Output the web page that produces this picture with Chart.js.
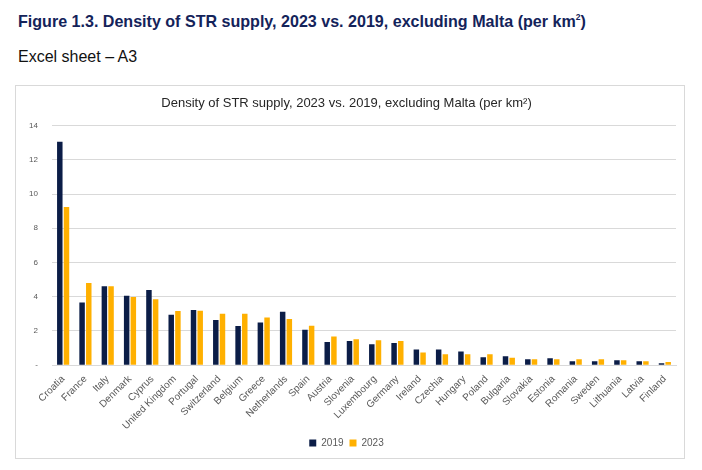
<!DOCTYPE html>
<html>
<head>
<meta charset="utf-8">
<script src="https://cdn.jsdelivr.net/npm/chart.js@4/dist/chart.umd.min.js"></script>
<style>
  body { margin: 0; background: #fff; font-family: "Liberation Sans", Arial, sans-serif; }
  #fig { position: absolute; left: 18px; top: 12px; font-family: "Liberation Sans", sans-serif; font-weight: bold; font-size: 17px; color: #14235a; transform: scaleX(0.945); transform-origin: left top; white-space: nowrap; }
  #fig sup { font-size: 9px; }
  #sheet { position: absolute; left: 18px; top: 48px; font-family: "Liberation Sans", sans-serif; font-size: 16px; color: #111; }
  #box { position: absolute; left: 15px; top: 85px; width: 668px; height: 372px; border: 1px solid #d9d9d9; }
</style>
</head>
<body>
<div id="fig">Figure 1.3. Density of STR supply, 2023 vs. 2019, excluding Malta (per km<sup>2</sup>)</div>
<div id="sheet">Excel sheet – A3</div>
<div id="box"><canvas id="chart" width="668" height="372"></canvas></div>
<script>
const countries = ['Croatia', 'France', 'Italy', 'Denmark', 'Cyprus', 'United Kingdom', 'Portugal', 'Switzerland',
  'Belgium', 'Greece', 'Netherlands', 'Spain', 'Austria', 'Slovenia', 'Luxembourg', 'Germany', 'Ireland',
  'Czechia', 'Hungary', 'Poland', 'Bulgaria', 'Slovakia', 'Estonia', 'Romania', 'Sweden', 'Lithuania',
  'Latvia', 'Finland'];
const density2019 = [13.05, 3.67, 4.61, 4.06, 4.39, 2.95, 3.22, 2.64, 2.29, 2.5, 3.13, 2.07, 1.35, 1.41,
  1.23, 1.29, 0.92, 0.92, 0.8, 0.47, 0.53, 0.35, 0.41, 0.23, 0.23, 0.29, 0.23, 0.12];
const density2023 = [9.24, 4.8, 4.61, 3.98, 3.85, 3.16, 3.18, 3.0, 3.0, 2.79, 2.7, 2.3, 1.68, 1.52,
  1.46, 1.41, 0.74, 0.64, 0.64, 0.64, 0.43, 0.35, 0.35, 0.35, 0.35, 0.29, 0.23, 0.18];
const yTicks = [0, 2, 4, 6, 8, 10, 12, 14];

const ctx = document.getElementById('chart').getContext('2d');
new Chart(ctx, {
  type: 'bar',
  data: {
    labels: countries,
    datasets: [
      { label: '2019', data: density2019, backgroundColor: '#0b1d47', barPercentage: 0.82, categoryPercentage: 0.6 },
      { label: '2023', data: density2023, backgroundColor: '#ffb000', barPercentage: 0.82, categoryPercentage: 0.6 }
    ]
  },
  options: {
    responsive: false,
    animation: false,
    layout: { padding: { left: 1, right: 8, top: 0, bottom: 0 } },
    plugins: {
      title: {
        display: true,
        text: 'Density of STR supply, 2023 vs. 2019, excluding Malta (per km²)',
        color: '#262626',
        font: { family: 'Liberation Sans', size: 13, weight: 'normal' },
        padding: { top: 10, bottom: 14 }
      },
      legend: {
        position: 'bottom',
        labels: {
          boxWidth: 7, boxHeight: 7, padding: 6, color: '#595959',
          font: { family: 'Liberation Sans', size: 10 }
        }
      },
      tooltip: { enabled: false }
    },
    scales: {
      x: {
        grid: { display: false },
        border: { color: '#d9d9d9' },
        ticks: {
          minRotation: 45, maxRotation: 45, autoSkip: false, color: '#595959', padding: 0,
          font: { family: 'Liberation Sans', size: 10 }
        }
      },
      y: {
        min: 0, max: 14,
        afterBuildTicks: axis => { axis.ticks = yTicks.map(v => ({ value: v })); },
        afterFit: axis => { axis.width = 35; },
        grid: { color: '#d9d9d9', drawTicks: false },
        border: { display: false },
        ticks: {
          color: '#595959', padding: 14,
          font: { family: 'Liberation Sans', size: 8 },
          callback: v => v === 0 ? '-' : v
        }
      }
    }
  }
});
</script>
</body>
</html>
